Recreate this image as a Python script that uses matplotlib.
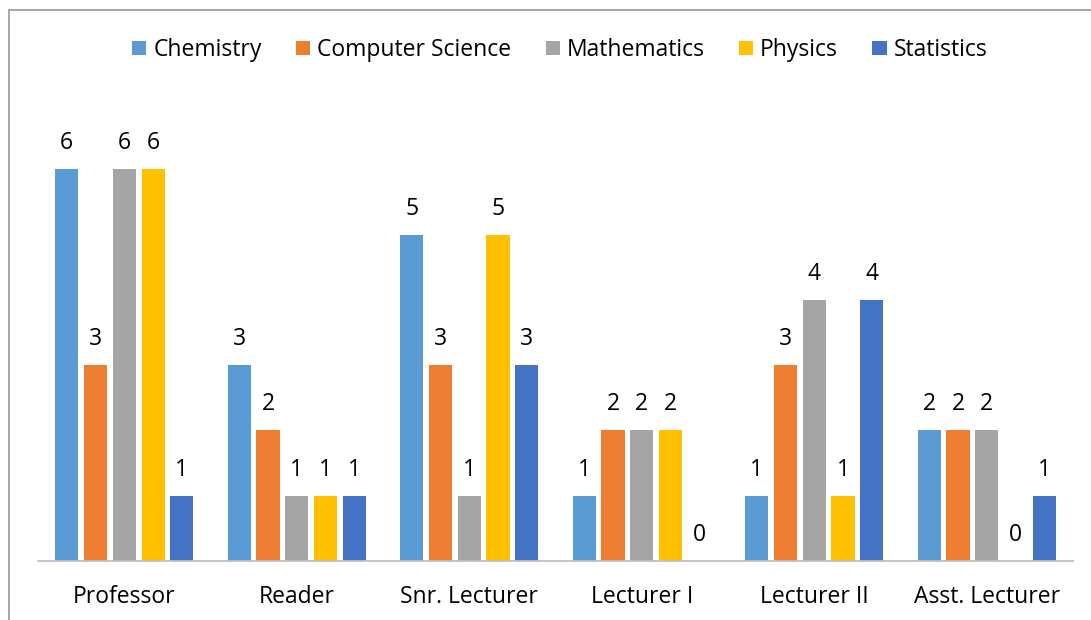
import matplotlib
matplotlib.use("Agg")
import matplotlib.pyplot as plt
from matplotlib.patches import Rectangle
import numpy as np

categories = ["Professor", "Reader", "Snr. Lecturer", "Lecturer I", "Lecturer II", "Asst. Lecturer"]
chemistry = [6, 3, 5, 1, 1, 2]
computer_science = [3, 2, 3, 2, 3, 2]
mathematics = [6, 1, 1, 2, 4, 2]
physics = [6, 1, 5, 2, 1, 0]
statistics = [1, 1, 3, 0, 4, 1]

series = [
    ("Chemistry", chemistry, "#5B9BD5"),
    ("Computer Science", computer_science, "#ED7D31"),
    ("Mathematics", mathematics, "#A5A5A5"),
    ("Physics", physics, "#FFC000"),
    ("Statistics", statistics, "#4472C4"),
]

plt.rcParams["font.family"] = ["Open Sans", "DejaVu Sans"]
FS = 16.5

W, H = 1091, 620
fig = plt.figure(figsize=(W / 100, H / 100), dpi=100)

# plot area in pixel coordinates
x0, x1 = 38, 1073
y_base, y_top = 561, 104
ax = fig.add_axes([x0 / W, 1 - y_base / H, (x1 - x0) / W, (y_base - y_top) / H])

n = len(series)
step = 0.167
width = 0.134
x = np.arange(len(categories))
for i, (name, vals, color) in enumerate(series):
    pos = x + (i - (n - 1) / 2) * step
    ax.bar(pos, vals, width=width, color=color, label=name, zorder=2)
    for xp, v in zip(pos, vals):
        ax.annotate(str(v), (xp, v), xytext=(0, 18.7), textcoords="offset points",
                    ha="center", va="center", fontsize=FS, color="#000000")

ax.set_xlim(-0.5, len(categories) - 0.5)
ax.set_ylim(0, 7)
ax.set_yticks([])
ax.set_xticks(x)
ax.set_xticklabels(categories, fontsize=FS)
ax.tick_params(axis="x", length=0, pad=17.5)
for s in ["top", "right", "left"]:
    ax.spines[s].set_visible(False)
ax.spines["bottom"].set_color("#BFBFBF")
ax.spines["bottom"].set_linewidth(1.3)
ax.set_facecolor("none")

fig.legend(loc="center", bbox_to_anchor=(0.513, 1 - 50 / H), ncol=5, frameon=False,
           fontsize=FS, handlelength=0.62, handleheight=0.62, handletextpad=0.3,
           columnspacing=1.5)

# chart border (continues past the right and bottom edges)
fig.add_artist(Rectangle((8.5 / W, -0.2), 1.2, 1.2 - 9.5 / H, transform=fig.transFigure,
                         fill=False, edgecolor="#A0A0A0", linewidth=1.3))

fig.savefig("out.png", dpi=100)
